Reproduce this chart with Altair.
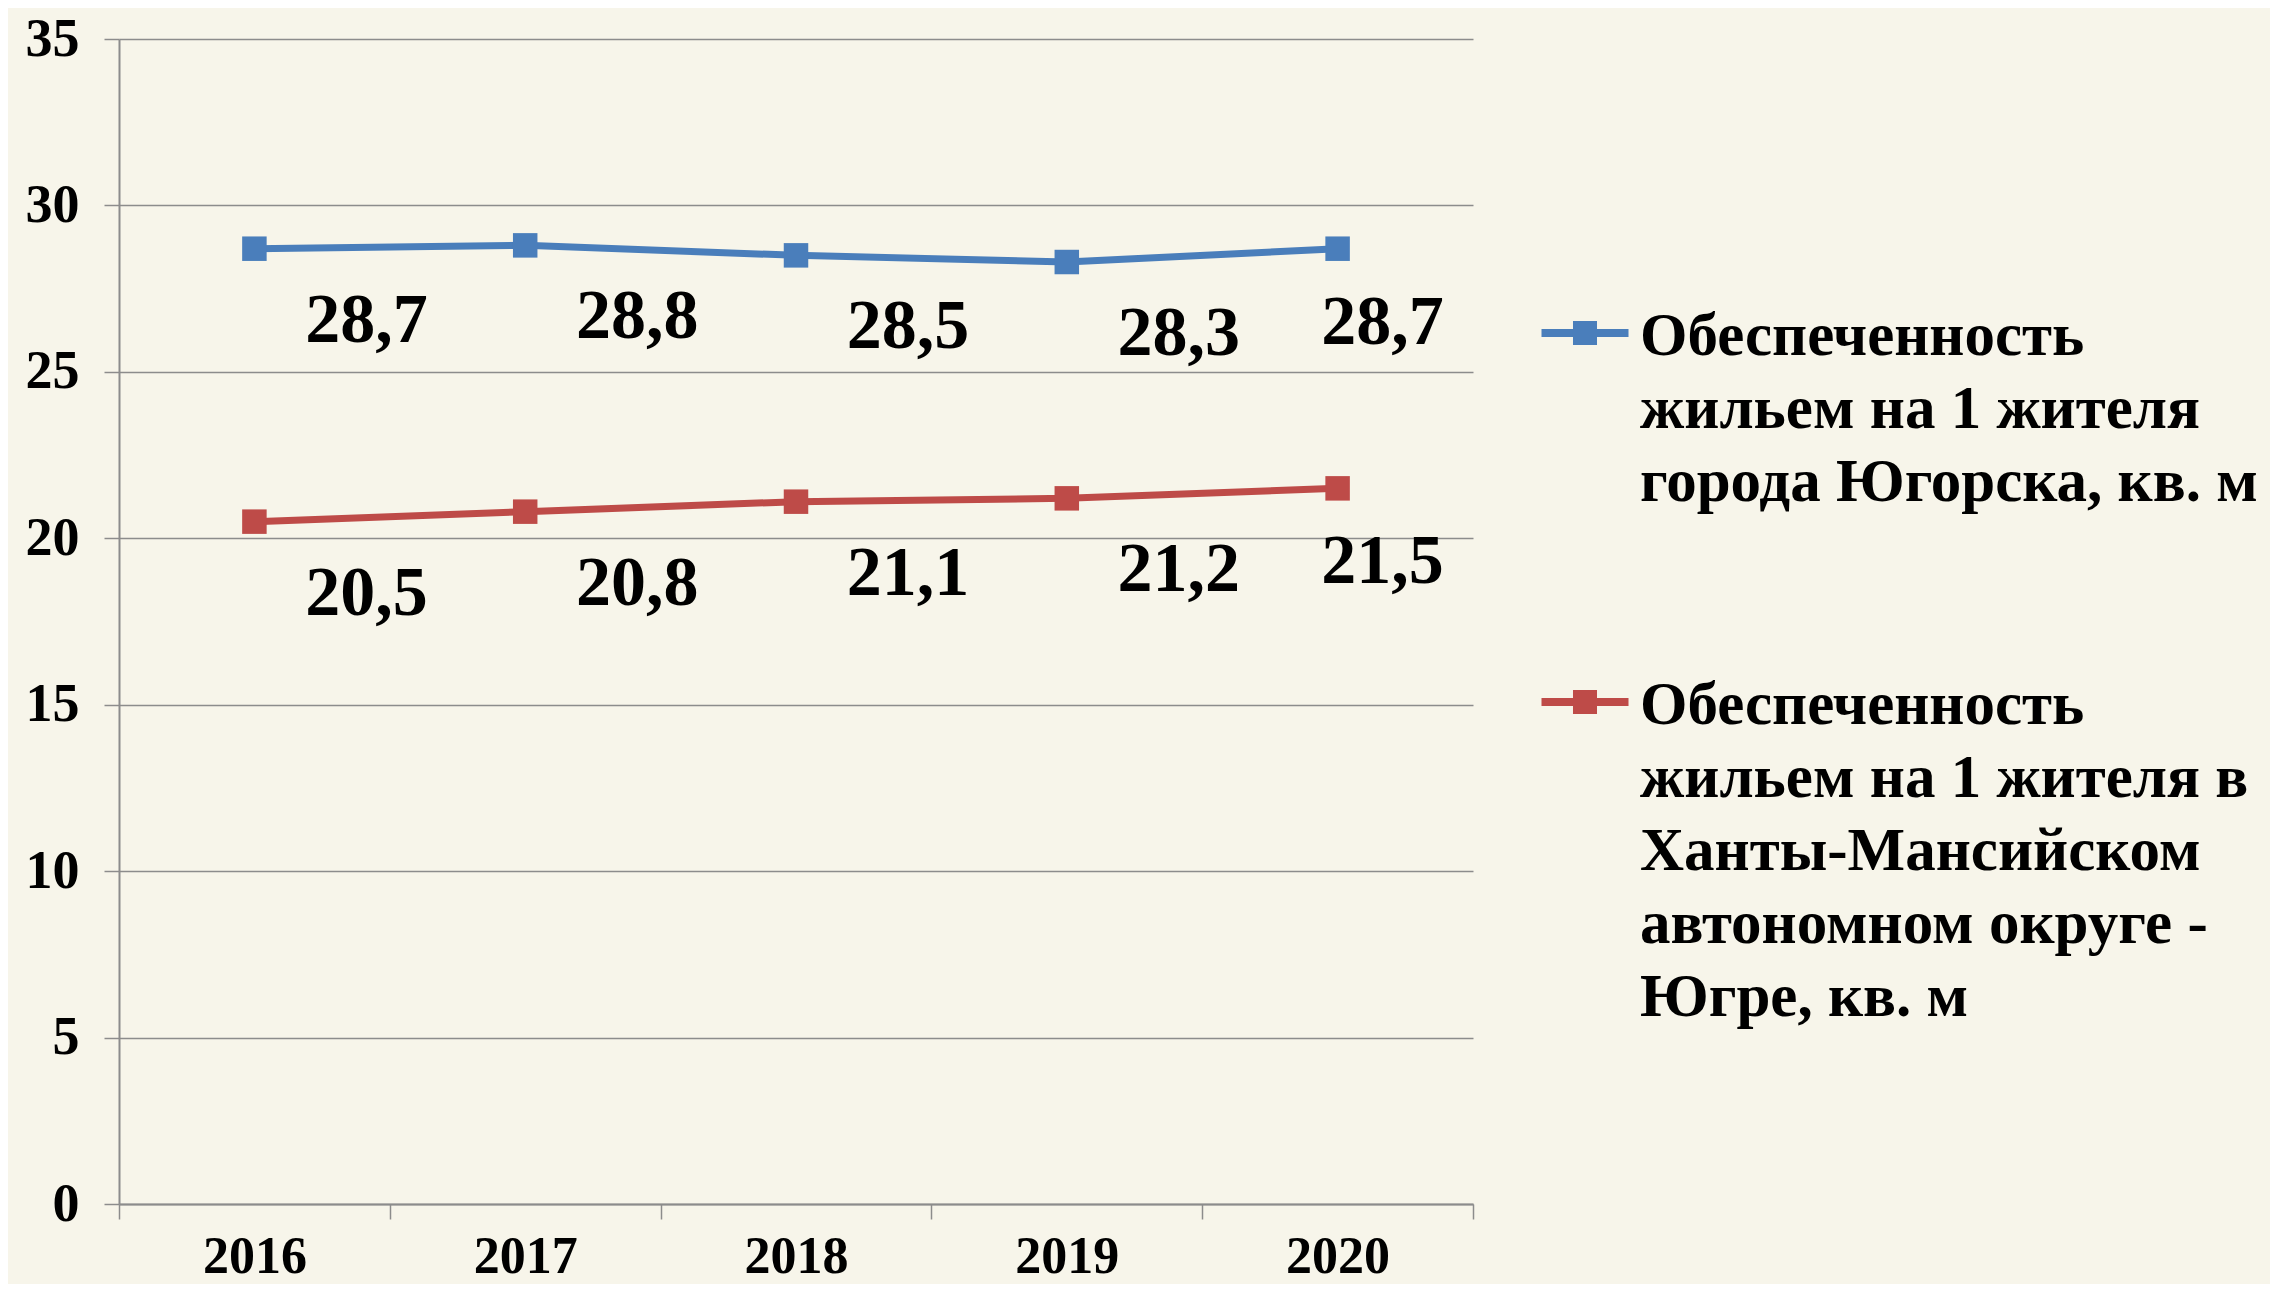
import altair as alt
import pandas as pd

years = ["2016", "2017", "2018", "2019", "2020"]
yugorsk = [28.7, 28.8, 28.5, 28.3, 28.7]
hmao = [20.5, 20.8, 21.1, 21.2, 21.5]
series_lines = [
    ["Обеспеченность", "жильем на 1 жителя", "города Югорска, кв. м"],
    ["Обеспеченность", "жильем на 1 жителя в", "Ханты-Мансийском", "автономном округе -", "Югре, кв. м"],
]
y_ticks = [0, 5, 10, 15, 20, 25, 30, 35]

names = [" ".join(l) for l in series_lines]
rows = []
for name, vals in zip(names, [yugorsk, hmao]):
    for yr, v in zip(years, vals):
        rows.append({"year": yr, "value": v, "series": name})
df = pd.DataFrame(rows)

BLUE = "#4A7EBB"
RED = "#BE4B48"
COLORS = [BLUE, RED]
GRID = "#8C8C8C"
FONT = "Liberation Serif"

sym = ("M-1,-0.092H1V0.092H-1Z "
       "M-0.276,-0.276H0.276V0.276H-0.276Z")

x_enc = alt.X(
    "year:O",
    scale=alt.Scale(type="band", paddingInner=0, paddingOuter=0),
    bandPosition=0.5,
    axis=alt.Axis(
        title=None, labelAngle=0, tickBand="extent", tickSize=15, tickColor=GRID,
        tickWidth=1.5, domainColor=GRID, domainWidth=2, labelPadding=12,
        labelFontSize=52, labelFont=FONT, labelFontWeight="bold", labelColor="black",
        grid=False,
    ),
)
y_enc = alt.Y(
    "value:Q",
    scale=alt.Scale(domain=[0, 35], nice=False),
    axis=alt.Axis(
        title=None, values=y_ticks, tickSize=15, tickColor=GRID, tickWidth=1.5,
        domainColor=GRID, domainWidth=2, gridColor=GRID, gridWidth=1.5,
        labelPadding=25, labelFontSize=54, labelFont=FONT, labelFontWeight="bold",
        labelColor="black",
    ),
)
color_enc = alt.Color(
    "series:N",
    scale=alt.Scale(domain=names, range=COLORS),
    legend=None,
)

base = alt.Chart(df)
line = base.mark_line(strokeWidth=7).encode(x=x_enc, y=y_enc, color=color_enc)
pts = base.mark_square(size=600, opacity=1, filled=True).encode(x=x_enc, y=y_enc, color=color_enc)

lab = base.transform_calculate(
    lbl="replace(format(datum.value, '.1f'), '.', ',')"
)
txt_main = lab.transform_filter("datum.year != '2020'").mark_text(
    fontSize=70, font=FONT, fontWeight="bold", color="black", dx=112, dy=72,
    align="center", baseline="middle",
).encode(x=x_enc, y=y_enc, text="lbl:N")
txt_last = lab.transform_filter("datum.year == '2020'").mark_text(
    fontSize=70, font=FONT, fontWeight="bold", color="black", dx=45, dy=74,
    align="center", baseline="middle",
).encode(x=x_enc, y=y_enc, text="lbl:N")

# legend (drawn beside the plot)
one = pd.DataFrame({"k": [0]})
legend_layers = []
entry_y = [294, 663]
for i, (lines, col) in enumerate(zip(series_lines, COLORS)):
    legend_layers.append(
        alt.Chart(one).mark_point(
            shape=sym, size=7569, filled=True, opacity=1, strokeWidth=0, color=col
        ).encode(x=alt.value(1466), y=alt.value(entry_y[i]))
    )
    legend_layers.append(
        alt.Chart(one).mark_text(
            text=lines, lineHeight=73, align="left", baseline="alphabetic",
            fontSize=61, font=FONT, fontWeight="bold", color="black",
        ).encode(x=alt.value(1521), y=alt.value(entry_y[i] + 22))
    )

chart = alt.layer(line, pts, txt_main, txt_last, *legend_layers).properties(
    width=1354, height=1165,
    autosize=alt.AutoSizeParams(type="none"),
    padding={"left": 111, "top": 31, "right": 797, "bottom": 80},
    background="#F7F5EA",
).configure_view(stroke=None)

chart.save("out.html", embed_options={"renderer": "svg", "actions": False})
